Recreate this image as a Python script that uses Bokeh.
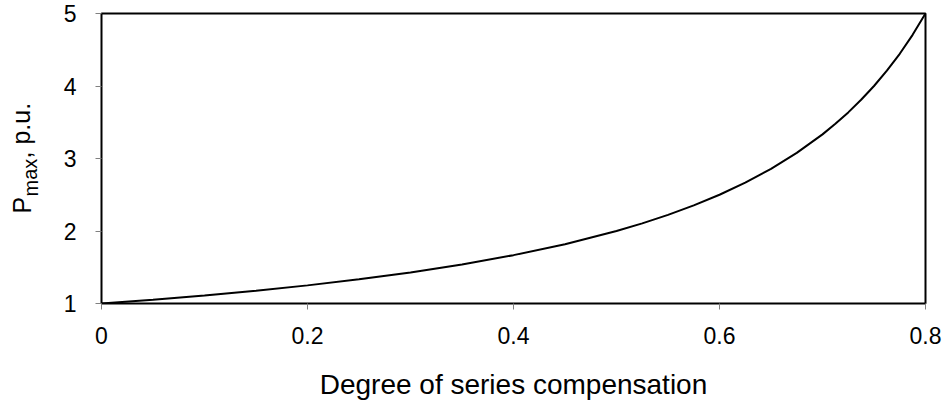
from bokeh.plotting import figure
from bokeh.layouts import row
from bokeh.models import Range1d, Label, FixedTicker
from bokeh.embed import file_html
from bokeh.resources import INLINE

# Degree of series compensation vs Pmax (p.u.)
comp = [0.0, 0.05, 0.10, 0.15, 0.20, 0.25, 0.30, 0.35, 0.40, 0.45, 0.50, 0.525,
        0.55, 0.575, 0.60, 0.625, 0.65, 0.675, 0.70, 0.7125, 0.725, 0.7375,
        0.75, 0.7625, 0.775, 0.7875, 0.80]
pmax = [1.000, 1.053, 1.111, 1.176, 1.250, 1.333, 1.429, 1.538, 1.667, 1.818, 2.000, 2.105,
        2.222, 2.353, 2.500, 2.667, 2.857, 3.077, 3.333, 3.478, 3.636, 3.810,
        4.000, 4.211, 4.444, 4.706, 5.000]
x_ticks = [0, 0.2, 0.4, 0.6, 0.8]
x_tick_labels = ["0", "0.2", "0.4", "0.6", "0.8"]
y_ticks = [1, 2, 3, 4, 5]
y_label_parts = ["P", "max", ", p.u."]

FONT = "Liberation Sans"
H = 405
LW = 60
TOP, BOTTOM = 13, 102  # frame borders (px)

# narrow figure holding the rotated y-axis title (with subscript);
# its frame is aligned with the main frame, so map its y range to page pixels
lab = figure(width=LW, height=H, output_backend="svg", toolbar_location=None,
             x_range=Range1d(0, LW), y_range=Range1d(BOTTOM, H - TOP),
             min_border_left=0, min_border_right=0, min_border_top=TOP, min_border_bottom=BOTTOM)
lab.axis.visible = False
lab.grid.visible = False
lab.outline_line_color = None
lab.background_fill_color = "white"
lab.border_fill_color = "white"
common = dict(angle=1.5708, text_font=FONT, text_color="black",
              text_align="left", text_baseline="alphabetic")
lab.add_layout(Label(x=21, y=H - 213, text=y_label_parts[0], text_font_size="25px", **common))
lab.add_layout(Label(x=30, y=H - 196, text=y_label_parts[1], text_font_size="20px", **common))
lab.add_layout(Label(x=21, y=H - 158, text=y_label_parts[2], text_font_size="25px", **common))

p = figure(width=945 - LW, height=H, output_backend="svg", toolbar_location=None,
           x_range=Range1d(0, 0.8), y_range=Range1d(1, 5),
           min_border_left=98 - LW, min_border_right=20, min_border_top=TOP, min_border_bottom=BOTTOM)
p.background_fill_color = "white"
p.border_fill_color = "white"
p.outline_line_color = "black"
p.outline_line_width = 2
p.grid.visible = False

p.line(comp, pmax, line_color="black", line_width=2)

p.xaxis.ticker = FixedTicker(ticks=x_ticks)
p.xaxis.major_label_overrides = {t: l for t, l in zip(x_ticks, x_tick_labels)}
p.yaxis.ticker = FixedTicker(ticks=y_ticks)
for ax in (p.xaxis, p.yaxis):
    ax.axis_line_color = None
    ax.major_tick_in = 0
    ax.major_tick_out = 6
    ax.major_tick_line_color = "#808080"
    ax.major_tick_line_width = 1
    ax.minor_tick_line_color = None
    ax.major_label_text_font = FONT
    ax.major_label_text_font_size = "23px"
    ax.major_label_text_color = "black"
p.xaxis.major_label_standoff = 17
p.yaxis.major_label_standoff = 19

p.xaxis.axis_label = "Degree of series compensation"
p.xaxis.axis_label_text_font = FONT
p.xaxis.axis_label_text_font_size = "28px"
p.xaxis.axis_label_text_font_style = "normal"
p.xaxis.axis_label_text_color = "black"
p.xaxis.axis_label_standoff = 22

layout = row(lab, p, spacing=0)
open("out.html", "w").write(file_html(layout, INLINE))
